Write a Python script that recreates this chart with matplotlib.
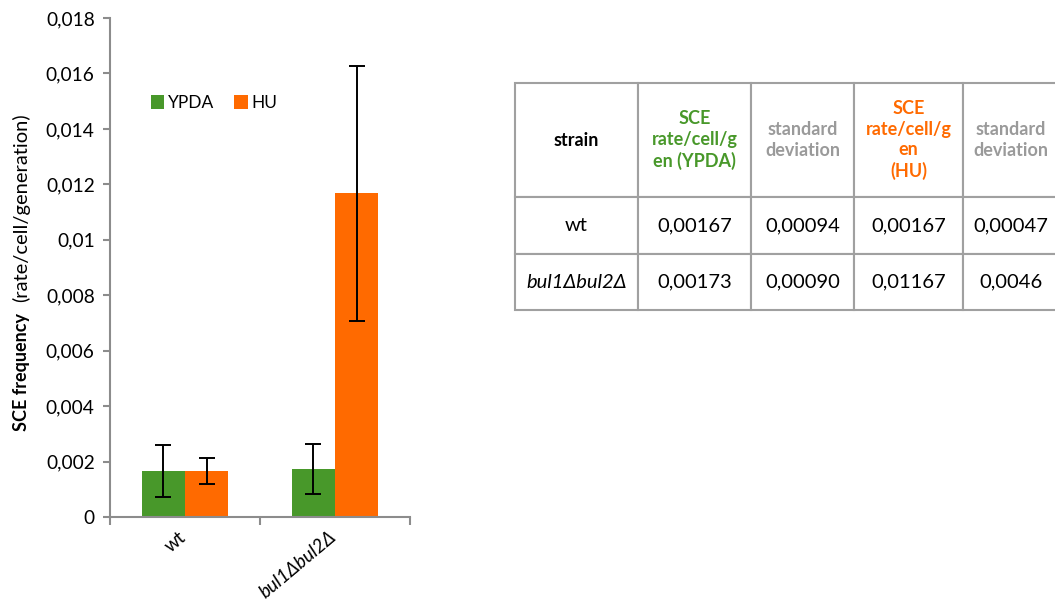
import numpy as np
import matplotlib
matplotlib.use("Agg")
from matplotlib import pyplot as plt
from matplotlib.transforms import ScaledTranslation

plt.rcParams['font.family'] = ['Lato', 'DejaVu Sans']

strains = ["wt", "bul1Δbul2Δ"]
ypda_rate = [0.00167, 0.00173]
ypda_sd = [0.00094, 0.00090]
hu_rate = [0.00167, 0.01167]
hu_sd = [0.00047, 0.0046]

table_header = ["strain", "SCE\nrate/cell/g\nen (YPDA)", "standard\ndeviation",
                "SCE\nrate/cell/g\nen\n(HU)", "standard\ndeviation"]
table_rows = [["wt", "0,00167", "0,00094", "0,00167", "0,00047"],
              ["bul1Δbul2Δ", "0,00173", "0,00090", "0,01167", "0,0046"]]

y_ticks = [0, 0.002, 0.004, 0.006, 0.008, 0.01, 0.012, 0.014, 0.016, 0.018]

GREEN = "#48982a"
ORANGE = "#ff6a00"
GRAY = "#8c8c8c"
HEAD_GRAY = "#9a9a9a"

W, H = 1055, 599
fig = plt.figure(figsize=(W / 100, H / 100), dpi=100)

# bar chart
ax = fig.add_axes([110 / W, 1 - 517 / H, 300 / W, 499 / H])
x = np.arange(len(strains))
bw = 0.287
err_kw = dict(ecolor="black", elinewidth=1.4, capsize=6, capthick=1.4)
ax.bar(x - bw / 2, ypda_rate, bw, yerr=ypda_sd, color=GREEN, label="YPDA", error_kw=err_kw)
ax.bar(x + bw / 2, hu_rate, bw, yerr=hu_sd, color=ORANGE, label="HU", error_kw=err_kw)

ax.set_xlim(-0.5, len(strains) - 0.5)
ax.set_ylim(0, 0.018)
ax.set_yticks(y_ticks)
ax.set_yticklabels([f"{v:g}".replace(".", ",") for v in y_ticks], fontsize=13.8)
ax.set_xticks(np.arange(len(strains) + 1) - 0.5, minor=True)
ax.tick_params(axis="x", which="major", length=0, pad=8)
ax.tick_params(axis="x", which="minor", length=6, color=GRAY, width=1.5)
ax.tick_params(axis="y", length=5, color=GRAY, width=1.5, pad=6)
ax.set_xticks(x)
ax.set_xticklabels(strains, fontsize=13.5, rotation=40, ha="right", rotation_mode="anchor")
ax.get_xticklabels()[1].set_fontstyle("italic")
# nudge the rotated labels a bit left, like the original
shift = ScaledTranslation(-7 / 100, 0, fig.dpi_scale_trans)
for lab in ax.get_xticklabels():
    lab.set_transform(lab.get_transform() + shift)
for s in ["top", "right"]:
    ax.spines[s].set_visible(False)
for s in ["left", "bottom"]:
    ax.spines[s].set_color(GRAY)
    ax.spines[s].set_linewidth(1.5)

ax.legend(loc="upper left", bbox_to_anchor=(0.083, 0.877), ncol=2, frameon=False,
          fontsize=12.5, handlelength=0.8, handleheight=0.8, handletextpad=0.2,
          columnspacing=1.15)

fig.text(21 / W, 1 - 431 / H, "SCE frequency", rotation=90, rotation_mode="anchor",
         ha="left", va="center", fontsize=13, fontweight="bold")
fig.text(21 / W, 1 - 302 / H, "(rate/cell/generation)", rotation=90, rotation_mode="anchor",
         ha="left", va="center", fontsize=14.5)

# table on the right
col_px = [123, 113, 103, 109, 95]
row_px = [114, 57, 56]
tx = fig.add_axes([515 / W, 1 - 310 / H, sum(col_px) / W, sum(row_px) / H])
tx.axis("off")
tbl = tx.table(cellText=table_rows, colLabels=table_header, cellLoc="center",
               bbox=[0, 0, 1, 1], colWidths=[c / sum(col_px) for c in col_px])
tbl.auto_set_font_size(False)
head_colors = ["black", GREEN, HEAD_GRAY, ORANGE, HEAD_GRAY]
for (r, c), cell in tbl.get_celld().items():
    cell.set_edgecolor("#a0a0a0")
    cell.set_linewidth(1.5)
    cell.set_height(row_px[r] / sum(row_px))
    t = cell.get_text()
    if r == 0:
        t.set_fontsize(13)
        t.set_linespacing(1.25)
        t.set_fontweight("bold")
        t.set_color(head_colors[c])
    else:
        t.set_fontsize(14.5)
    if r == 2 and c == 0:
        t.set_fontstyle("italic")

fig.savefig("out.png", dpi=100)
